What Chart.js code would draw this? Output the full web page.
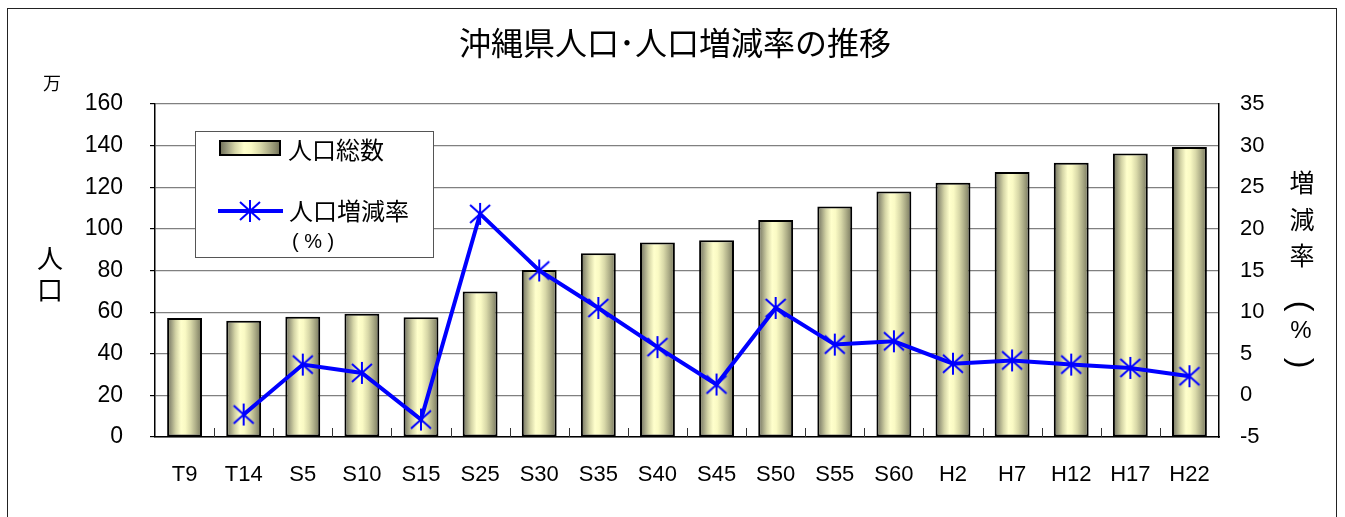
<!DOCTYPE html>
<html lang="ja">
<head>
<meta charset="utf-8">
<title>沖縄県人口･人口増減率の推移</title>
<script src="https://cdn.jsdelivr.net/npm/chart.js@4.4.1/dist/chart.umd.min.js"></script>
<style>
  html, body { margin: 0; padding: 0; background: #fff; }
  #wrap { position: relative; width: 1345px; height: 517px; overflow: hidden; }
  #frame { position: absolute; left: 7px; top: 8px; width: 1330px; height: 520px; border: 1px solid #222; box-sizing: border-box; pointer-events: none; }
  canvas { position: absolute; left: 0; top: 0; }
</style>
</head>
<body>
<div id="wrap">
  <canvas id="chart" width="1345" height="517"></canvas>
  <div id="frame"></div>
</div>
<script>
const LABELS = ["T9", "T14", "S5", "S10", "S15", "S25", "S30", "S35", "S40", "S45", "S50", "S55", "S60", "H2", "H7", "H12", "H17", "H22"];
// 人口総数（万人）
const POPULATION = [57.2, 55.8, 57.8, 59.2, 57.5, 69.9, 80.2, 88.3, 93.4, 94.5, 104.3, 110.7, 117.9, 122.2, 127.3, 131.8, 136.2, 139.3];
// 人口増減率（%）
const GROWTH = [null, -2.3, 3.7, 2.7, -2.9, 21.8, 15.0, 10.5, 5.8, 1.3, 10.5, 6.1, 6.5, 3.8, 4.2, 3.7, 3.3, 2.3];

const POP_TICKS = { min: 0, max: 160, step: 20 };
const RATE_TICKS = { min: -5, max: 35, step: 5 };

const JP = '"Noto Sans CJK JP", "Noto Sans", sans-serif';
const NUM = '"Liberation Sans", Arial, sans-serif';
const BLUE = "#0000ff";
const BAR_PCT = 0.59;

function cylinder(ctx, x0, x1) {
  const g = ctx.createLinearGradient(x0, 0, x1, 0);
  g.addColorStop(0, "#6f6f55");
  g.addColorStop(0.1, "#95957a");
  g.addColorStop(0.25, "#d4d4a6");
  g.addColorStop(0.4, "#ffffcc");
  g.addColorStop(0.52, "#fafac4");
  g.addColorStop(0.68, "#d8d8a8");
  g.addColorStop(0.82, "#aeae88");
  g.addColorStop(0.93, "#8a8a6c");
  g.addColorStop(1, "#6f6f55");
  return g;
}

function barFill(c) {
  const chart = c.chart;
  const xs = chart.scales.x;
  if (!xs || !chart.chartArea) return "#e6e6b4";
  const w = (chart.chartArea.right - chart.chartArea.left) / LABELS.length * BAR_PCT;
  const cx = xs.getPixelForValue(c.dataIndex);
  return cylinder(chart.ctx, cx - w / 2, cx + w / 2);
}

// 6-arm asterisk marker like the spreadsheet "star"
function asterisk(size) {
  const cv = document.createElement("canvas");
  cv.width = size; cv.height = size;
  const x = cv.getContext("2d");
  x.strokeStyle = BLUE;
  x.lineWidth = 2;
  const m = 1, e = size - 1, h = size / 2;
  x.beginPath();
  x.moveTo(h, m); x.lineTo(h, e);
  x.moveTo(m + 1, m + 2); x.lineTo(e - 1, e - 2);
  x.moveTo(e - 1, m + 2); x.lineTo(m + 1, e - 2);
  x.stroke();
  return cv;
}
const STAR = asterisk(24);

// draw a bracket turned for vertical writing
function vBracket(ctx, ch, x, y) {
  ctx.save();
  ctx.translate(x, y);
  ctx.rotate(Math.PI / 2);
  ctx.textAlign = "center";
  ctx.textBaseline = "middle";
  ctx.font = `32px ${NUM}`;
  ctx.fillText(ch, 0, 0);
  ctx.restore();
}

const decorations = {
  id: "decorations",
  afterDatasetsDraw(chart) {
    const { ctx, chartArea } = chart;
    const xs = chart.scales.x;
    // small inside tick marks between categories
    ctx.save();
    ctx.strokeStyle = "#333";
    ctx.lineWidth = 1;
    ctx.beginPath();
    for (let i = 1; i < LABELS.length; i++) {
      const px = Math.round((xs.getPixelForValue(i - 1) + xs.getPixelForValue(i)) / 2) + 0.5;
      ctx.moveTo(px, chartArea.bottom - 9);
      ctx.lineTo(px, chartArea.bottom);
    }
    ctx.stroke();
    ctx.restore();
  },
  afterDraw(chart) {
    const { ctx } = chart;
    ctx.save();
    ctx.fillStyle = "#000";
    ctx.textBaseline = "middle";

    // title
    ctx.textAlign = "center";
    ctx.font = `32px ${JP}`;
    ctx.fillText("沖縄県人口･人口増減率の推移", 675, 43);

    // unit and left axis label
    ctx.font = `18px ${JP}`;
    ctx.fillText("万", 52, 83);
    ctx.font = `26px ${JP}`;
    ctx.fillText("人", 50, 258);
    ctx.fillText("口", 50, 290);

    // right axis label, stacked vertically
    ctx.font = `25px ${JP}`;
    ctx.fillText("増", 1302, 182);
    ctx.fillText("減", 1302, 219);
    ctx.fillText("率", 1302, 255);
    vBracket(ctx, "(", 1300, 306);
    ctx.font = `24px ${NUM}`;
    ctx.fillText("%", 1301, 331);
    vBracket(ctx, ")", 1300, 363);

    // legend box
    ctx.fillStyle = "#fff";
    ctx.fillRect(195, 131, 238, 126);
    ctx.strokeStyle = "#555";
    ctx.lineWidth = 1;
    ctx.strokeRect(195.5, 131.5, 238, 126);

    ctx.fillStyle = cylinder(ctx, 220, 280);
    ctx.fillRect(220, 141, 60, 14);
    ctx.strokeStyle = "#000";
    ctx.lineWidth = 2;
    ctx.strokeRect(220, 141, 60, 14);

    ctx.strokeStyle = BLUE;
    ctx.lineWidth = 4;
    ctx.beginPath();
    ctx.moveTo(218, 211);
    ctx.lineTo(283, 211);
    ctx.stroke();
    ctx.drawImage(STAR, 250 - 12, 211 - 12);

    ctx.fillStyle = "#000";
    ctx.textAlign = "left";
    ctx.font = `24px ${JP}`;
    ctx.fillText("人口総数", 288, 150);
    ctx.fillText("人口増減率", 289, 211);
    ctx.font = `20px ${NUM}`;
    ctx.fillText("( % )", 292, 242);
    ctx.restore();
  }
};

new Chart(document.getElementById("chart"), {
  data: {
    labels: LABELS,
    datasets: [
      {
        type: "line",
        label: "人口増減率（%）",
        data: GROWTH,
        yAxisID: "y1",
        borderColor: BLUE,
        backgroundColor: BLUE,
        borderWidth: 4,
        tension: 0,
        pointStyle: STAR,
        pointRadius: 12,
        order: 0,
      },
      {
        type: "bar",
        label: "人口総数",
        data: POPULATION,
        yAxisID: "y",
        backgroundColor: barFill,
        borderColor: "#000",
        borderWidth: 2,
        borderSkipped: false,
        barPercentage: BAR_PCT,
        categoryPercentage: 1,
        order: 1,
      },
    ],
  },
  options: {
    responsive: false,
    animation: false,
    layout: { padding: { top: 104, left: 0, right: 0, bottom: 0 } },
    plugins: { legend: { display: false }, tooltip: { enabled: false }, title: { display: false } },
    scales: {
      x: {
        grid: { display: false },
        border: { display: true, color: "#000", width: 1.5 },
        ticks: { color: "#000", font: { family: NUM, size: 22 }, padding: 17, maxRotation: 0 },
        afterFit(s) { s.height = 80; },
      },
      y: {
        position: "left",
        min: POP_TICKS.min,
        max: POP_TICKS.max,
        grid: { color: "#808080", lineWidth: 1.2, tickLength: 5, tickColor: "#000" },
        border: { display: true, color: "#000", width: 1.5 },
        ticks: { stepSize: POP_TICKS.step, color: "#000", font: { family: NUM, size: 23 }, padding: 27 },
        afterFit(s) { s.width = 155; },
      },
      y1: {
        position: "right",
        min: RATE_TICKS.min,
        max: RATE_TICKS.max,
        grid: { drawOnChartArea: false, drawTicks: false },
        border: { display: true, color: "#000", width: 1.5 },
        ticks: { stepSize: RATE_TICKS.step, color: "#000", font: { family: NUM, size: 22 }, padding: 21 },
        afterFit(s) { s.width = 126; },
      },
    },
  },
  plugins: [decorations],
});
</script>
</body>
</html>
